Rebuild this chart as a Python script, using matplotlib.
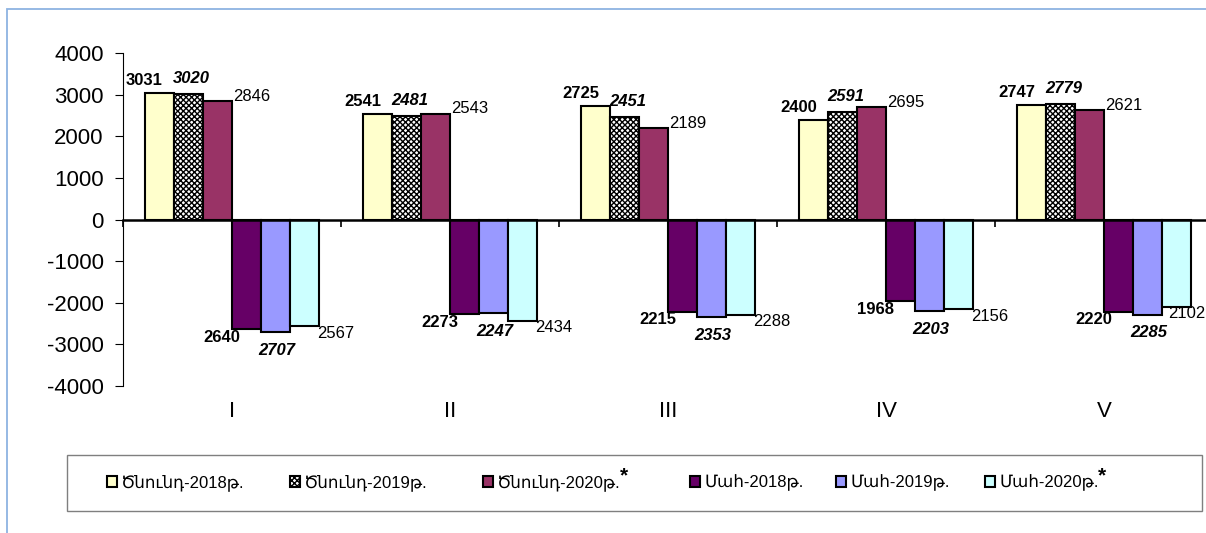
import matplotlib
matplotlib.use('Agg')
import matplotlib.pyplot as plt
from matplotlib.patches import Rectangle
import numpy as np

plt.rcParams['font.family'] = ['Liberation Sans', 'DejaVu Sans']
plt.rcParams['axes.unicode_minus'] = False
plt.rcParams['hatch.linewidth'] = 1.0

# ---------------- data ----------------
categories = ['I', 'II', 'III', 'IV', 'V']
births_2018 = [3031, 2541, 2725, 2400, 2747]
births_2019 = [3020, 2481, 2451, 2591, 2779]
births_2020 = [2846, 2543, 2189, 2695, 2621]
deaths_2018 = [2640, 2273, 2215, 1968, 2220]
deaths_2019 = [2707, 2247, 2353, 2203, 2285]
deaths_2020 = [2567, 2434, 2288, 2156, 2102]
series_labels = ['Ծնունդ-2018թ.', 'Ծնունդ-2019թ.', 'Ծնունդ-2020թ.',
                 'Մահ-2018թ.', 'Մահ-2019թ.', 'Մահ-2020թ.']
label_star = [False, False, True, False, False, True]
y_ticks = [-4000, -3000, -2000, -1000, 0, 1000, 2000, 3000, 4000]

# ---------------- styles ----------------
colors = ['#FFFFCC', '#FFFFFF', '#993366', '#660066', '#9999FF', '#CCFFFF']
hatches = [None, 'xxxxxx', None, None, None, None]
# label style per series: weight, style, ha, va, x-anchor on bar, offset px
lab_styles = [
    dict(weight='bold', style='normal', ha='center', va='bottom', anchor='center', off=(-15, 5)),
    dict(weight='bold', style='italic', ha='center', va='bottom', anchor='center', off=(3, 8)),
    dict(weight='normal', style='normal', ha='left', va='center', anchor='right', off=(1, 5)),
    dict(weight='bold', style='normal', ha='right', va='center', anchor='left', off=(8, -8)),
    dict(weight='bold', style='italic', ha='center', va='center', anchor='center', off=(1, -18)),
    dict(weight='normal', style='normal', ha='left', va='center', anchor='right', off=(-2, -7)),
]
legend_x_px = [107, 290, 483, 690, 836, 985]   # layout: left of each legend entry

W, H = 1206, 533
fig = plt.figure(figsize=(W / 100, H / 100), dpi=100)
ax = fig.add_axes([123 / W, (H - 386) / H, 1090 / W, 333 / H])

x = np.arange(len(categories))
width = 0.133
signs = [1, 1, 1, -1, -1, -1]
all_series = [births_2018, births_2019, births_2020, deaths_2018, deaths_2019, deaths_2020]

handles = []
annots = []
for i, vals in enumerate(all_series):
    v = np.array(vals) * signs[i]
    xpos = x + (i - 2.5) * width
    bars = ax.bar(xpos, v, width, color=colors[i], edgecolor='black',
                  linewidth=1.5, hatch=hatches[i], zorder=2)
    handles.append(bars)
    st = lab_styles[i]
    for xp, val, raw in zip(xpos, v, vals):
        if st['anchor'] == 'left':
            ax_x = xp - width / 2
        elif st['anchor'] == 'right':
            ax_x = xp + width / 2
        else:
            ax_x = xp
        a = ax.annotate(str(raw), xy=(ax_x, val), xytext=st['off'],
                        textcoords='offset pixels', ha=st['ha'], va=st['va'],
                        fontsize=12, fontweight=st['weight'], fontstyle=st['style'],
                        annotation_clip=False, zorder=4)
        annots.append(a)

ax.set_xlim(-0.5, len(categories) - 0.5)
ax.set_ylim(-4000, 4000)
ax.set_yticks(y_ticks)
ax.set_yticklabels([str(t) for t in y_ticks])
ax.tick_params(axis='y', direction='out', length=6, width=0.8, pad=8, labelsize=16)

for s in ['top', 'right']:
    ax.spines[s].set_visible(False)
ax.spines['left'].set_linewidth(0.8)
ax.spines['bottom'].set_position(('data', 0))
ax.spines['bottom'].set_linewidth(1.8)
ax.spines['bottom'].set_zorder(3)
ax.set_xticks(np.arange(len(categories) + 1) - 0.5)
ax.tick_params(axis='x', direction='out', length=5, width=1.2, labelbottom=False)

sec = ax.secondary_xaxis('bottom')
sec.set_xticks(x)
sec.set_xticklabels(categories)
sec.tick_params(length=0, pad=11, labelsize=16)
sec.spines['bottom'].set_visible(False)

# legend: one entry per legend, placed like the reference
legs = []
for h, lab, lx in zip(handles, series_labels, legend_x_px):
    lg = fig.legend([h], [lab], frameon=False, loc='center left',
                    bbox_to_anchor=(lx / W, (H - 483) / H),
                    fontsize=12, handlelength=0.6, handleheight=0.6,
                    handletextpad=0.25, borderpad=0, borderaxespad=0)
    legs.append(lg)

# legend frame and outer chart frame
fig.add_artist(Rectangle((67 / W, (H - 511) / H), (1202 - 67) / W, 56 / H,
                         transform=fig.transFigure, fill=False,
                         edgecolor='#7F7F7F', linewidth=1.0))
fig.add_artist(Rectangle((7 / W, -0.1), 1.2, (H - 9) / H + 0.1,
                         transform=fig.transFigure, fill=False,
                         edgecolor='#8DB3E2', linewidth=1.3))

fig.canvas.draw()
renderer = fig.canvas.get_renderer()

# keep labels inside the figure
for a in annots:
    bb = a.get_window_extent(renderer)
    if bb.x1 > W - 1:
        ox, oy = a.xyann
        a.xyann = (ox - (bb.x1 - (W - 1)), oy)

# superscript asterisks in the legend
for lg, star in zip(legs, label_star):
    if star:
        t = lg.get_texts()[0]
        bb = t.get_window_extent(renderer)
        fig.text((bb.x1 - 1) / W, (bb.y0 + 10) / H, '*', ha='left', va='baseline',
                 fontsize=15, fontweight='bold')

fig.savefig('out.png', dpi=100)
